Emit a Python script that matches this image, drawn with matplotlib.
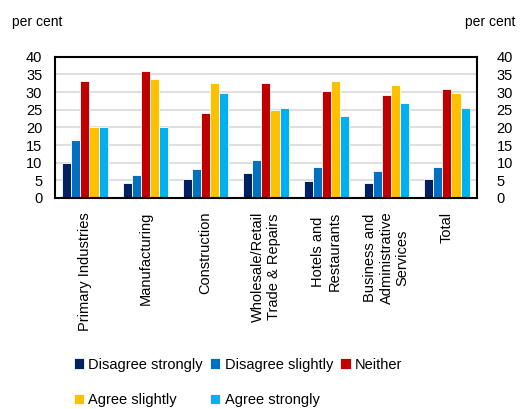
import matplotlib.pyplot as plt
import numpy as np

# Data
sectors = ["Primary Industries", "Manufacturing", "Construction",
           "Wholesale/Retail\nTrade & Repairs", "Hotels and\nRestaurants",
           "Business and\nAdministrative\nServices", "Total"]
disagree_strongly = [9.9, 4.3, 5.5, 7.1, 4.8, 4.3, 5.5]
disagree_slightly = [16.5, 6.5, 8.2, 10.8, 8.7, 7.6, 8.7]
neither = [33.1, 36.0, 24.2, 32.6, 30.4, 29.2, 30.9]
agree_slightly = [20.0, 33.7, 32.7, 24.8, 33.1, 32.0, 29.7]
agree_strongly = [20.0, 20.0, 29.8, 25.4, 23.2, 27.0, 25.4]

series = [("Disagree strongly", disagree_strongly, "#002060"),
          ("Disagree slightly", disagree_slightly, "#0070C0"),
          ("Neither", neither, "#C00000"),
          ("Agree slightly", agree_slightly, "#FFC000"),
          ("Agree strongly", agree_strongly, "#00B0F0")]

plt.rcParams['font.family'] = ['Liberation Sans', 'DejaVu Sans']

fig = plt.figure(figsize=(5.22, 4.09), dpi=100)
ax = fig.add_axes([0.105, 0.516, 0.809, 0.345])
ax.set_axisbelow(True)

x = np.arange(len(sectors))
width = 0.15
bars = []
for i, (name, vals, col) in enumerate(series):
    b = ax.bar(x + (i - 2) * width, vals, width, color=col, label=name,
               edgecolor='white', linewidth=0.6, zorder=2)
    bars.append(b)

ax.set_xlim(-0.5, len(sectors) - 0.5)
ax.set_ylim(0, 40)
ax.set_yticks(range(0, 41, 5))
ax.yaxis.grid(True, color='#d9d9d9', linewidth=1.2)
ax.tick_params(axis='y', length=0, labelsize=10.5, pad=9)
ax.set_xticks(x)
ax.set_xticklabels(sectors, rotation=90, ha='center', va='top',
                   multialignment='center', fontsize=10.5)
ax.tick_params(axis='x', length=0, pad=10)
for s in ax.spines.values():
    s.set_linewidth(1.5)
    s.set_color('black')
    s.set_zorder(3)

ax2 = ax.twinx()
ax2.set_ylim(0, 40)
ax2.set_yticks(range(0, 41, 5))
ax2.tick_params(axis='y', length=0, labelsize=10.5, pad=14)
for s in ax2.spines.values():
    s.set_visible(False)

fig.text(0.023, 0.945, "per cent", fontsize=10, ha='left', va='center')
fig.text(0.89, 0.945, "per cent", fontsize=10, ha='left', va='center')

# legend fills column by column, so order handles to read row by row
order = [0, 3, 1, 4, 2]
fig.legend([bars[i] for i in order], [series[i][0] for i in order],
           loc='upper left', bbox_to_anchor=(0.13, 0.14), ncol=3,
           frameon=False, fontsize=10.5, handlelength=0.7, handleheight=0.7,
           handletextpad=0.3, columnspacing=0.5, labelspacing=1.5,
           borderaxespad=0)

fig.savefig("out.png", dpi=100)
